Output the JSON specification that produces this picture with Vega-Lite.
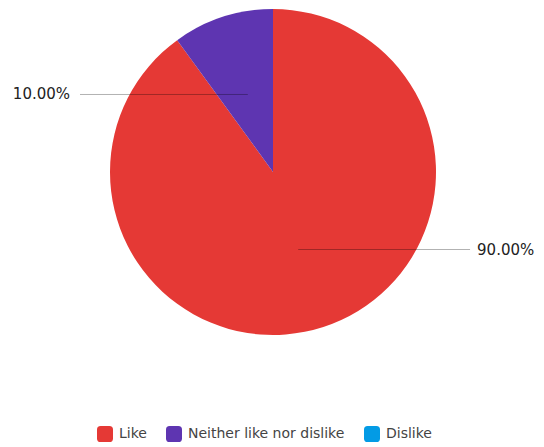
{
  "$schema": "https://vega.github.io/schema/vega-lite/v6.json",
  "width": 544,
  "height": 344,
  "autosize": {"type": "none"},
  "padding": {"left": 1, "top": 0, "right": 0, "bottom": 103},
  "background": "white",
  "config": {"view": {"stroke": null}, "font": "DejaVu Sans"},
  "data": {
    "values": [
      {"category": "Like", "value": 90},
      {"category": "Neither like nor dislike", "value": 10},
      {"category": "Dislike", "value": 0}
    ]
  },
  "layer": [
    {
      "mark": {"type": "arc", "outerRadius": 163, "stroke": "white", "strokeWidth": 0},
      "encoding": {
        "theta": {"field": "value", "type": "quantitative", "stack": true},
        "color": {
          "field": "category",
          "type": "nominal",
          "sort": ["Like", "Neither like nor dislike", "Dislike"],
          "scale": {
            "domain": ["Like", "Neither like nor dislike", "Dislike"],
            "range": ["#e53935", "#5e35b1", "#039be5"]
          },
          "legend": {
            "title": null,
            "orient": "none",
            "direction": "horizontal",
            "legendX": 96,
            "legendY": 426,
            "padding": 0,
            "symbolType": "M -1 -0.55 Q -1 -1 -0.55 -1 L 0.55 -1 Q 1 -1 1 -0.55 L 1 0.55 Q 1 1 0.55 1 L -0.55 1 Q -1 1 -1 0.55 Z",
            "symbolSize": 256,
            "symbolStrokeWidth": 0,
            "labelFontSize": 14,
            "labelColor": "#444444",
            "labelFont": "DejaVu Sans",
            "labelOffset": 6,
            "columnPadding": 19
          }
        }
      }
    },
    {
      "transform": [
        {"joinaggregate": [{"op": "sum", "field": "value", "as": "total"}]},
        {"window": [{"op": "sum", "field": "value", "as": "cum"}], "sort": [{"field": "category", "order": "ascending"}], "frame": [null, 0]},
        {"filter": "datum.value > 0"},
        {"calculate": "2 * PI * (datum.cum - datum.value / 2) / datum.total", "as": "ang"},
        {"calculate": "0.5 * sin(datum.ang)", "as": "px"},
        {"calculate": "0.5 * cos(datum.ang)", "as": "py"},
        {"calculate": "datum.px > 0 ? 1.209 : -1.184", "as": "lx"}
      ],
      "mark": {"type": "rule", "stroke": "#000000", "strokeOpacity": 0.3, "strokeWidth": 1},
      "encoding": {
        "x": {"field": "px", "type": "quantitative", "scale": {"domain": [-1.6687, 1.6687], "nice": false, "zero": false}, "axis": null},
        "x2": {"field": "lx"},
        "y": {"field": "py", "type": "quantitative", "scale": {"domain": [-1.0552, 1.0552], "nice": false, "zero": false}, "axis": null}
      }
    },
    {
      "transform": [
        {"joinaggregate": [{"op": "sum", "field": "value", "as": "total"}]},
        {"window": [{"op": "sum", "field": "value", "as": "cum"}], "sort": [{"field": "category", "order": "ascending"}], "frame": [null, 0]},
        {"filter": "datum.value > 0"},
        {"calculate": "2 * PI * (datum.cum - datum.value / 2) / datum.total", "as": "ang"},
        {"calculate": "0.5 * cos(datum.ang)", "as": "py"},
        {"filter": "sin(datum.ang) > 0"},
        {"calculate": "format(datum.value / datum.total, '.2%')", "as": "lbl"}
      ],
      "mark": {"type": "text", "align": "left", "baseline": "middle", "fontSize": 15, "color": "#222222", "font": "DejaVu Sans"},
      "encoding": {
        "x": {"datum": 1.252, "type": "quantitative"},
        "y": {"field": "py", "type": "quantitative"},
        "text": {"field": "lbl"}
      }
    },
    {
      "transform": [
        {"joinaggregate": [{"op": "sum", "field": "value", "as": "total"}]},
        {"window": [{"op": "sum", "field": "value", "as": "cum"}], "sort": [{"field": "category", "order": "ascending"}], "frame": [null, 0]},
        {"filter": "datum.value > 0"},
        {"calculate": "2 * PI * (datum.cum - datum.value / 2) / datum.total", "as": "ang"},
        {"calculate": "0.5 * cos(datum.ang)", "as": "py"},
        {"filter": "sin(datum.ang) < 0"},
        {"calculate": "format(datum.value / datum.total, '.2%')", "as": "lbl"}
      ],
      "mark": {"type": "text", "align": "right", "baseline": "middle", "fontSize": 15, "color": "#222222", "font": "DejaVu Sans"},
      "encoding": {
        "x": {"datum": -1.245, "type": "quantitative"},
        "y": {"field": "py", "type": "quantitative"},
        "text": {"field": "lbl"}
      }
    }
  ]
}
